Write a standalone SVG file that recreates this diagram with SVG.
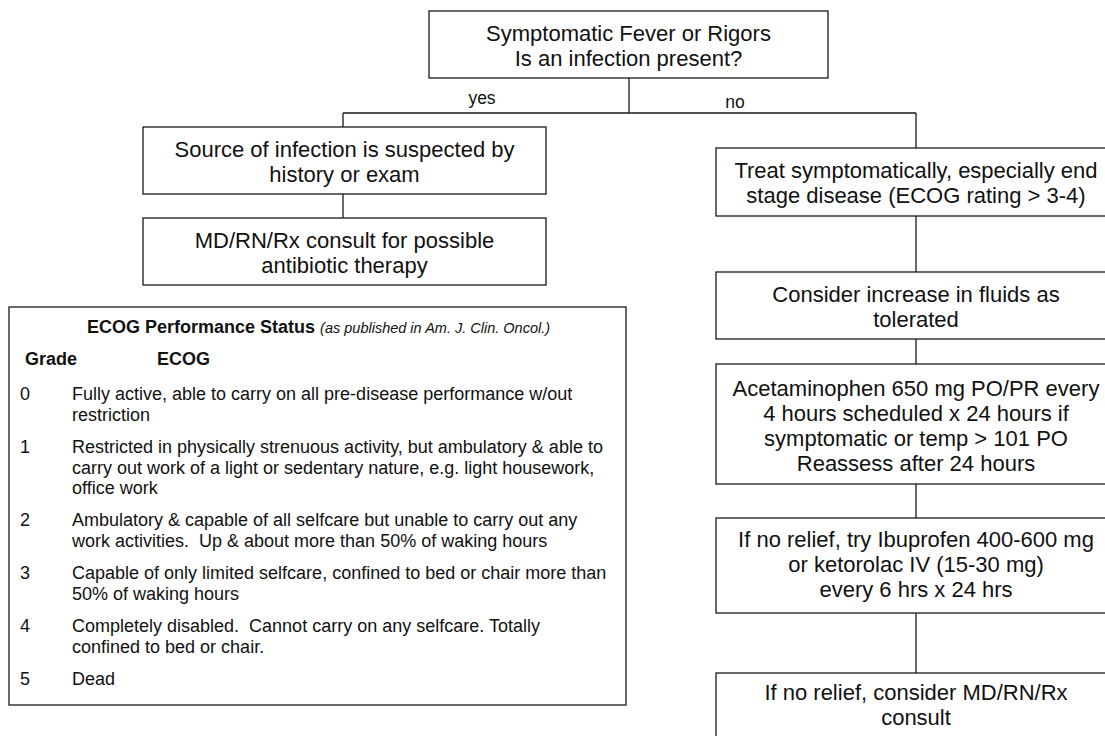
<svg xmlns="http://www.w3.org/2000/svg" width="1105" height="736" viewBox="0 0 1105 736">
  <style>
    .box { fill: #ffffff; stroke: #1a1a1a; stroke-width: 1.3; }
    .wire { fill: none; stroke: #1a1a1a; stroke-width: 1.3; }
    .t { font-family: "Liberation Sans", Arial, sans-serif; font-size: 22px; fill: #111; text-anchor: middle; }
    .lbl { font-family: "Liberation Sans", Arial, sans-serif; font-size: 17.5px; fill: #111; text-anchor: middle; }
    .e { font-family: "Liberation Sans", Arial, sans-serif; font-size: 18px; fill: #111; white-space: pre; }
    .eb { font-weight: bold; }
    .ei { font-style: italic; font-size: 14.5px; font-weight: normal; }
  </style>
  <rect width="1105" height="736" fill="#ffffff"/>

  <!-- connectors -->
  <g id="connectors">
    <path class="wire" d="M629 78 V113 M343 113 H916 M343 113 V127 M916 113 V148"/>
    <path class="wire" d="M343 194 V218"/>
    <path class="wire" d="M916 216 V272 M916 339 V364 M916 484 V518 M916 613 V673"/>
    <text class="lbl" x="482" y="104">yes</text>
    <text class="lbl" x="735" y="108">no</text>
  </g>

  <g id="start">
    <rect class="box" x="429" y="11" width="399" height="67"/>
    <text class="t" x="628.5" y="41">Symptomatic Fever or Rigors</text>
    <text class="t" x="628.5" y="66">Is an infection present?</text>
  </g>

  <g id="source">
    <rect class="box" x="143" y="127" width="403" height="67"/>
    <text class="t" x="344.5" y="157">Source of infection is suspected by</text>
    <text class="t" x="344.5" y="182">history or exam</text>
  </g>

  <g id="consult-antibiotic">
    <rect class="box" x="143" y="218" width="403" height="67"/>
    <text class="t" x="344.5" y="248">MD/RN/Rx consult for possible</text>
    <text class="t" x="344.5" y="273">antibiotic therapy</text>
  </g>

  <g id="treat">
    <rect class="box" x="716" y="148" width="400" height="68"/>
    <text class="t" x="916" y="178">Treat symptomatically, especially end</text>
    <text class="t" x="916" y="203">stage disease (ECOG rating &gt; 3-4)</text>
  </g>

  <g id="fluids">
    <rect class="box" x="716" y="272" width="400" height="67"/>
    <text class="t" x="916" y="302">Consider increase in fluids as</text>
    <text class="t" x="916" y="327">tolerated</text>
  </g>

  <g id="acetaminophen">
    <rect class="box" x="716" y="364" width="400" height="120"/>
    <text class="t" x="916" y="396">Acetaminophen 650 mg PO/PR every</text>
    <text class="t" x="916" y="421">4 hours scheduled x 24 hours if</text>
    <text class="t" x="916" y="446">symptomatic or temp &gt; 101 PO</text>
    <text class="t" x="916" y="471">Reassess after 24 hours</text>
  </g>

  <g id="ibuprofen">
    <rect class="box" x="716" y="518" width="400" height="95"/>
    <text class="t" x="916" y="547">If no relief, try Ibuprofen 400-600 mg</text>
    <text class="t" x="916" y="572">or ketorolac IV (15-30 mg)</text>
    <text class="t" x="916" y="597">every 6 hrs x 24 hrs</text>
  </g>

  <g id="consult-final">
    <rect class="box" x="716" y="673" width="400" height="80"/>
    <text class="t" x="916" y="700">If no relief, consider MD/RN/Rx</text>
    <text class="t" x="916" y="725">consult</text>
  </g>

  <!-- ECOG performance status table -->
  <g id="ecog-table">
    <rect class="box" x="9" y="307" width="617" height="398"/>
    <text class="e eb" x="87" y="333">ECOG Performance Status <tspan class="ei">(as published in Am. J. Clin. Oncol.)</tspan></text>
    <text class="e eb" x="25" y="365">Grade</text>
    <text class="e eb" x="157" y="365">ECOG</text>

    <text class="e" x="20" y="400">0</text>
    <text class="e" x="72" y="400">Fully active, able to carry on all pre-disease performance w/out</text>
    <text class="e" x="72" y="421">restriction</text>

    <text class="e" x="20" y="453">1</text>
    <text class="e" x="72" y="453">Restricted in physically strenuous activity, but ambulatory &amp; able to</text>
    <text class="e" x="72" y="474">carry out work of a light or sedentary nature, e.g. light housework,</text>
    <text class="e" x="72" y="494">office work</text>

    <text class="e" x="20" y="526">2</text>
    <text class="e" x="72" y="526">Ambulatory &amp; capable of all selfcare but unable to carry out any</text>
    <text class="e" x="72" y="547">work activities.  Up &amp; about more than 50% of waking hours</text>

    <text class="e" x="20" y="579">3</text>
    <text class="e" x="72" y="579">Capable of only limited selfcare, confined to bed or chair more than</text>
    <text class="e" x="72" y="600">50% of waking hours</text>

    <text class="e" x="20" y="632">4</text>
    <text class="e" x="72" y="632">Completely disabled.  Cannot carry on any selfcare. Totally</text>
    <text class="e" x="72" y="653">confined to bed or chair.</text>

    <text class="e" x="20" y="685">5</text>
    <text class="e" x="72" y="685">Dead</text>
  </g>
</svg>
